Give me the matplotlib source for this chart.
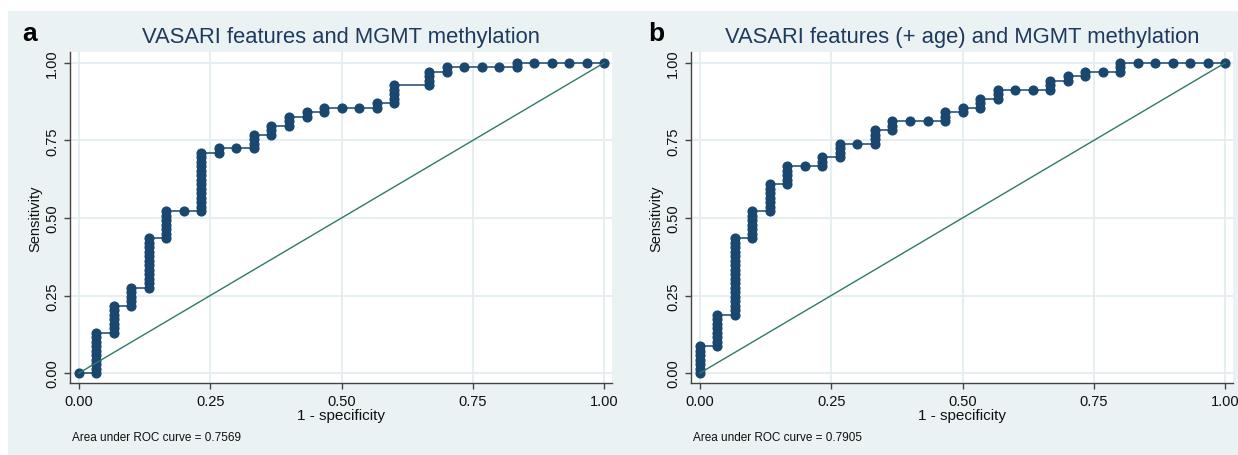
import numpy as np
import matplotlib.pyplot as plt

plt.rcParams['font.family'] = ['Liberation Sans', 'DejaVu Sans']

# ROC data: 30 unmethylated (negatives), 69 methylated (positives)
n_neg = 30
n_pos = 69

# false positives at each cutpoint and true positives reached there
a_fp = [0, 1, 2, 3, 4, 5, 6, 7, 8, 9, 10, 11, 12, 13, 14, 15, 16, 17, 18,
        20, 21, 22, 23, 24, 25, 26, 27, 28, 29, 30]
a_tp = [0, 9, 15, 19, 30, 36, 36, 49, 50, 50, 53, 55, 57, 58, 59, 59, 59, 60, 64,
        67, 68, 68, 68, 68, 69, 69, 69, 69, 69, 69]

b_fp = list(range(31))
b_tp = [6, 13, 30, 36, 42, 46, 46, 48, 51, 51,
        54, 56, 56, 56, 58, 59, 61, 63, 63, 63,
        65, 66, 67, 67, 69, 69, 69, 69, 69, 69, 69]

titles = ['VASARI features and MGMT methylation',
          'VASARI features (+ age) and MGMT methylation']
letters = ['a', 'b']
auc = ['0.7569', '0.7905']
ticks = [0, 0.25, 0.5, 0.75, 1.0]
tick_labels = ['0.00', '0.25', '0.50', '0.75', '1.00']

navy = '#1A476F'
green = '#2F7A64'
bg = '#EAF2F3'


def roc_points(fp, tp):
    xs, ys = [], []
    prev = 0
    for f, t in zip(fp, tp):
        for c in range(prev, t + 1):
            xs.append(f / n_neg)
            ys.append(c / n_pos)
        prev = t
    return np.array(xs), np.array(ys)


W, H = 1238, 456
fig = plt.figure(figsize=(W / 100, H / 100), dpi=100)
fig.patch.set_facecolor('white')
fig.patches.append(plt.Rectangle((8 / W, 0), 1, 1 - 12 / H, transform=fig.transFigure,
                                 facecolor=bg, edgecolor='none', zorder=-10))

lefts = [70, 691]
data = [(a_fp, a_tp), (b_fp, b_tp)]
for i in range(2):
    l = lefts[i]
    ax = fig.add_axes([l / W, 1 - 384 / H, 542 / W, 331 / H])
    ax.set_facecolor('white')
    x, y = roc_points(*data[i])
    ax.plot(x, y, color=navy, lw=1.1, marker='o', ms=6.3, mec=navy, mfc=navy,
            zorder=3, clip_on=False)
    ax.plot([0, 1], [0, 1], color=green, lw=1.0, zorder=4)
    ax.set_xlim(-0.017, 1.015)
    ax.set_ylim(-0.032, 1.035)
    ax.set_xticks(ticks)
    ax.set_xticklabels(tick_labels, fontsize=10.5)
    ax.set_yticks(ticks)
    ax.set_yticklabels(tick_labels, fontsize=10.5, rotation=90, va='center')
    ax.grid(True, color='#E3EDEF', lw=1.3, zorder=0)
    ax.set_axisbelow(True)
    for s in ['top', 'right']:
        ax.spines[s].set_visible(False)
    for s in ['left', 'bottom']:
        ax.spines[s].set_color('#444444')
        ax.spines[s].set_linewidth(1.0)
    ax.tick_params(direction='out', length=4, width=1, color='#444444',
                   labelcolor='#111111', pad=4)
    ax.set_xlabel('1 - specificity', fontsize=11, color='#111111', labelpad=0)
    ax.set_ylabel('Sensitivity', fontsize=10.5, color='#111111', labelpad=2)

    cx = (l + 271) / W
    fig.text(cx, 1 - 37 / H, titles[i], fontsize=15.8, color='#1E3A5F',
             ha='center', va='center')
    fig.text((l - 48) / W if i == 0 else (l - 43) / W, 1 - 41 / H, letters[i],
             fontsize=19, fontweight='bold', color='black', ha='left', va='baseline')
    fig.text((l + 2) / W, 1 - 438 / H, 'Area under ROC curve = ' + auc[i],
             fontsize=8.5, color='#111111', ha='left', va='center')

fig.savefig('out.png', dpi=100, facecolor=fig.get_facecolor())
